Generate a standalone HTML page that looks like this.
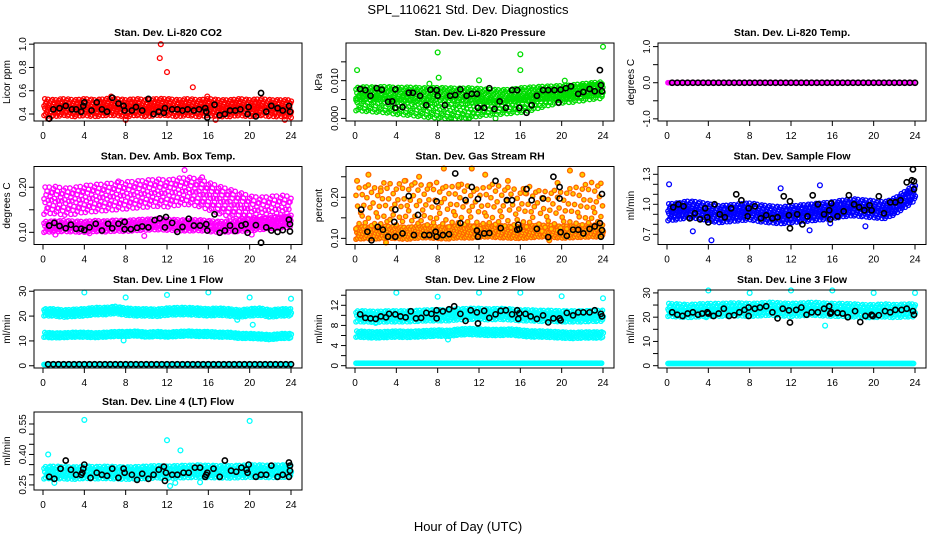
<!DOCTYPE html>
<html><head><meta charset="utf-8"><style>
html,body{margin:0;padding:0;background:#fff;}
svg{display:block;font-family:"Liberation Sans",Arial,sans-serif;}
</style></head><body>
<svg id="chart" width="936" height="540" viewBox="0 0 936 540">
<text x="468" y="14" font-size="13" text-anchor="middle">SPL_110621  Std. Dev. Diagnostics</text>
<text x="468" y="531" font-size="13" text-anchor="middle">Hour of Day (UTC)</text>
</svg>
<script>
// ---- data ----
const xTicks = [0,4,8,12,16,20,24];
const panelTitles = ["Stan. Dev. Li-820 CO2","Stan. Dev. Li-820 Pressure","Stan. Dev. Li-820 Temp.","Stan. Dev. Amb. Box Temp.","Stan. Dev. Gas Stream RH","Stan. Dev. Sample Flow","Stan. Dev. Line 1 Flow","Stan. Dev. Line 2 Flow","Stan. Dev. Line 3 Flow","Stan. Dev. Line 4 (LT) Flow"];
const yUnits = ["Licor ppm","kPa","degrees C","degrees C","percent","ml/min","ml/min","ml/min","ml/min","ml/min"];
const yRanges = [[0.34,1.01],[-0.0007,0.0200],[-1.06,1.1],[0.073,0.246],[0.085,0.275],[0.598,1.378],[-0.9,30.5],[-0.46,15.04],[-0.95,31.2],[0.225,0.609]];
const yTicks = [[0.4,0.6,0.8,1.0],[0,0.005,0.010,0.015],[-1,-0.5,0,0.5,1],[0.10,0.15,0.20],[0.10,0.15,0.20,0.25],[0.7,0.8,0.9,1.0,1.1,1.2,1.3],[0,10,20,30],[0,2,4,6,8,10,12,14],[0,5,10,15,20,25,30],[0.25,0.30,0.35,0.40,0.45,0.50,0.55]];
const yTickLabels = [["0.4","0.6","0.8","1.0"],["0.000","","0.010",""],["-1.0","","0.0","","1.0"],["0.10","","0.20"],["0.10","","0.20",""],["0.7","","","1.0","","","1.3"],["0","10","20","30"],["0","","4","","8","","12",""],["0","","10","","20","","30"],["0.25","","","0.40","","","0.55"]];
const seriesColors = ["#ff0000","#00dd00","#ff00ff","#ff00ff","#ffcc00","#0000ff","#00ffff","#00ffff","#00ffff","#00ffff"];

// band centres at hours 0..24 (one value per hour)
const co2Band = [0.46,0.45,0.46,0.45,0.46,0.45,0.46,0.46,0.45,0.46,0.45,0.46,0.46,0.45,0.46,0.45,0.46,0.45,0.45,0.46,0.45,0.46,0.45,0.45,0.45];
const presBandHi = [0.0065,0.0067,0.0066,0.0068,0.0065,0.0066,0.0065,0.0064,0.0065,0.0064,0.0063,0.0064,0.0062,0.0060,0.0059,0.0060,0.0064,0.0066,0.0068,0.0069,0.0070,0.0072,0.0075,0.0078,0.0080];
const presBandLo = [0.0040,0.0038,0.0036,0.0034,0.0030,0.0028,0.0025,0.0022,0.0020,0.0018,0.0018,0.0020,0.0025,0.0028,0.0030,0.0032,0.0035,0.0040,0.0048,0.0055,0.0060,0.0062,0.0066,0.0070,0.0072];
const tempBand = [0,0,0,0,0,0,0,0,0,0,0,0,0,0,0,0,0,0,0,0,0,0,0,0,0];
const ambBandHi = [0.170,0.172,0.168,0.170,0.174,0.176,0.178,0.180,0.182,0.184,0.186,0.188,0.186,0.190,0.192,0.188,0.180,0.172,0.165,0.158,0.150,0.148,0.150,0.152,0.150];
const ambBandLo = [0.112,0.113,0.114,0.113,0.112,0.114,0.113,0.115,0.114,0.116,0.117,0.118,0.117,0.116,0.115,0.116,0.114,0.112,0.113,0.114,0.116,0.118,0.120,0.122,0.124];
const rhBandLo = [0.112,0.114,0.113,0.115,0.114,0.112,0.115,0.116,0.114,0.113,0.116,0.115,0.117,0.118,0.116,0.115,0.114,0.116,0.118,0.117,0.115,0.116,0.117,0.118,0.118];
const rhBandHi = [0.170,0.185,0.175,0.190,0.180,0.195,0.185,0.180,0.190,0.175,0.185,0.180,0.170,0.185,0.180,0.175,0.170,0.180,0.165,0.170,0.165,0.175,0.180,0.190,0.185];
const flowBand = [0.92,0.93,0.95,0.94,0.92,0.90,0.91,0.92,0.93,0.91,0.90,0.89,0.90,0.91,0.92,0.93,0.94,0.96,0.97,0.96,0.95,0.94,0.98,1.05,1.12];
const l1BandHi = [21.5,21.5,21.0,21.3,21.5,22.0,22.0,22.5,21.8,21.5,21.5,21.3,21.8,22.0,22.0,21.8,21.5,21.8,21.5,21.0,21.5,21.8,21.0,21.5,21.5];
const l1BandMid = [12.5,12.2,12.3,12.5,12.5,12.3,12.5,12.8,12.8,13.0,12.5,12.8,12.5,12.8,13.0,12.8,12.8,12.5,12.5,12.0,12.0,11.8,11.5,12.0,12.0];
const l1BandLo = [0.5,0.5,0.5,0.5,0.5,0.5,0.5,0.5,0.5,0.5,0.5,0.5,0.5,0.5,0.5,0.5,0.5,0.5,0.5,0.5,0.5,0.5,0.5,0.5,0.5];
const l2BandHi = [9.8,9.8,9.7,9.8,9.8,9.8,9.9,10.0,10.0,10.0,10.2,10.3,10.3,10.2,10.3,10.2,10.0,10.0,9.9,9.9,9.8,9.8,9.8,9.9,9.9];
const l2BandMid = [6.3,6.2,6.1,6.2,6.3,6.2,6.3,6.4,6.5,6.4,6.7,6.8,6.7,6.6,6.6,6.7,6.5,6.3,6.3,6.2,6.1,6.0,6.1,6.1,6.1];
const l2BandLo = [0.5,0.5,0.5,0.5,0.5,0.5,0.5,0.5,0.5,0.5,0.5,0.5,0.5,0.5,0.5,0.5,0.5,0.5,0.5,0.5,0.5,0.5,0.5,0.5,0.5];
const l3BandHi = [23,22.8,22.5,22.8,23,23,23.2,23.2,23,23.2,23.5,23.2,23,23.2,23.5,23.2,23,23,22.8,22.5,22.5,22.8,22.5,22.8,22.8];
const l3BandLo = [0.9,0.9,0.9,0.9,0.9,0.9,0.9,0.9,0.9,0.9,0.9,0.9,0.9,0.9,0.9,0.9,0.9,0.9,0.9,0.9,0.9,0.9,0.9,0.9,0.9];
const l4Band = [0.310,0.312,0.310,0.308,0.312,0.310,0.312,0.310,0.308,0.310,0.312,0.315,0.312,0.315,0.316,0.318,0.316,0.315,0.314,0.316,0.318,0.318,0.316,0.318,0.318];

// individual outliers (hour, value)
const co2Outliers = [[11.4,1.0],[11.3,0.88],[12.0,0.76],[14.5,0.63],[0.5,0.36],[8.0,0.35],[16.7,0.35],[23.4,0.35],[24,0.37],[6.6,0.55],[15.9,0.55]];
const presOutliers = [[0.2,0.0128],[8.0,0.0175],[8.1,0.0108],[16.0,0.0170],[16.0,0.0128],[24.0,0.0190],[12.0,0.0101],[9.3,0.0],[11.0,0.0],[13.6,0.0],[20.3,0.0100],[7.2,0.0092]];
const ambOutliers = [[13.7,0.238],[15.4,0.222],[7.3,0.213],[1.2,0.095],[20.2,0.095],[9.8,0.092],[4.5,0.098]];
const rhOutliers = [[8.6,0.27],[11.3,0.27],[20.8,0.265],[1.3,0.255],[12.6,0.255],[22.0,0.255],[0.2,0.24],[6.2,0.25],[3.0,0.09],[18.8,0.095],[4.8,0.24],[10,0.23],[14.8,0.24],[19.6,0.235],[16.5,0.21],[2.5,0.215],[7.2,0.23]];
const flowOutliers = [[0.2,1.2],[2.5,0.73],[4.3,0.64],[13.8,0.74],[11.0,1.16],[14.8,1.19],[15.8,0.81],[19.2,0.78]];
const l1Outliers = [[4,29.5],[12,28.5],[16,29.5],[8,27.5],[20,27.5],[24,27],[20.3,16.5],[18.8,18.5],[7.8,10.2]];
const l2Outliers = [[4,14.5],[8,13.7],[12,14.5],[16,14.5],[20,13.8],[24,13.4],[2,8.5],[9,5.2]];
const l3Outliers = [[4,31],[8,30],[12,31],[16,31],[20,30],[24,30],[15.3,16.5],[3.8,20]];
const l4Outliers = [[4,0.57],[20,0.565],[12,0.47],[13.3,0.42],[0.5,0.40],[1.1,0.26],[12.3,0.245],[15.2,0.263],[12.8,0.26]];

// black points (hour, value)
const co2Black = [[0.6,0.36],[1.0,0.44],[1.6,0.45],[2.2,0.47],[2.8,0.44],[3.2,0.44],[3.7,0.42],[3.9,0.47],[4.0,0.50],[4.7,0.43],[5.2,0.50],[5.7,0.44],[6.2,0.42],[6.7,0.54],[7.3,0.49],[7.8,0.47],[7.9,0.43],[8.6,0.43],[9.0,0.46],[9.6,0.43],[10.2,0.53],[10.7,0.40],[11.2,0.42],[11.7,0.41],[11.8,0.45],[12.5,0.44],[13.0,0.44],[13.5,0.43],[14.0,0.44],[14.6,0.43],[15.1,0.44],[15.7,0.45],[15.8,0.42],[15.9,0.37],[16.6,0.48],[17.1,0.39],[17.6,0.40],[18.1,0.43],[18.6,0.43],[19.1,0.44],[19.8,0.40],[19.9,0.46],[20.6,0.38],[21.1,0.58],[21.6,0.42],[22.1,0.47],[22.7,0.45],[23.2,0.43],[23.8,0.47],[23.9,0.42]];
const presBlack = [[0.5,0.0078],[1.0,0.0075],[1.5,0.0060],[2.1,0.0080],[2.6,0.0076],[3.2,0.0044],[3.6,0.0045],[3.9,0.0077],[3.9,0.0028],[4.6,0.0030],[5.2,0.0068],[5.6,0.0068],[6.3,0.0060],[6.9,0.0035],[7.3,0.0076],[7.9,0.0075],[8.0,0.0060],[8.7,0.0035],[9.2,0.0060],[9.7,0.0062],[10.2,0.0077],[10.8,0.0060],[11.3,0.0065],[11.8,0.0065],[11.9,0.0028],[12.5,0.0028],[13.0,0.0080],[13.5,0.0025],[14.0,0.0045],[14.6,0.0028],[15.2,0.0075],[15.7,0.0075],[15.9,0.0028],[16.6,0.0015],[17.1,0.0035],[17.6,0.0060],[18.2,0.0075],[18.7,0.0075],[19.3,0.0075],[19.7,0.0042],[19.9,0.0076],[20.4,0.0080],[20.9,0.0085],[21.6,0.0065],[22.1,0.0070],[22.7,0.0078],[23.2,0.0072],[23.7,0.0128],[23.8,0.0088],[23.9,0.0072]];
const tempBlack = [[0.5,0],[1,0],[1.5,0],[2,0],[2.5,0],[3,0],[3.5,0],[4,0],[4.5,0],[5,0],[5.5,0],[6,0],[6.5,0],[7,0],[7.5,0],[8,0],[8.5,0],[9,0],[9.5,0],[10,0],[10.5,0],[11,0],[11.5,0],[12,0],[12.5,0],[13,0],[13.5,0],[14,0],[14.5,0],[15,0],[15.5,0],[16,0],[16.5,0],[17,0],[17.5,0],[18,0],[18.5,0],[19,0],[19.5,0],[20,0],[20.5,0],[21,0],[21.5,0],[22,0],[22.5,0],[23,0],[23.5,0],[24,0]];
const ambBlack = [[0.6,0.115],[1.1,0.121],[1.6,0.114],[2.2,0.109],[2.7,0.117],[3.2,0.108],[3.7,0.108],[4.0,0.105],[4.5,0.111],[5.1,0.119],[5.7,0.104],[6.3,0.119],[6.7,0.109],[7.3,0.119],[7.9,0.123],[7.9,0.107],[8.5,0.107],[9.1,0.110],[9.6,0.113],[10.2,0.111],[10.8,0.127],[11.3,0.131],[11.8,0.111],[11.9,0.134],[12.5,0.121],[13.0,0.101],[13.5,0.112],[14.1,0.130],[14.6,0.115],[15.2,0.115],[15.8,0.118],[15.9,0.104],[16.6,0.140],[17.1,0.099],[17.6,0.104],[18.1,0.115],[18.6,0.103],[19.2,0.115],[19.6,0.118],[19.8,0.099],[20.6,0.116],[21.1,0.077],[21.6,0.111],[22.1,0.104],[22.7,0.101],[23.2,0.105],[23.8,0.128],[23.9,0.118],[23.9,0.102]];
const rhBlack = [[0.6,0.17],[1.2,0.116],[1.6,0.095],[2.2,0.128],[2.7,0.121],[3.2,0.104],[3.8,0.14],[3.9,0.170],[3.9,0.104],[4.6,0.112],[5.2,0.203],[5.7,0.108],[6.1,0.157],[6.7,0.108],[7.2,0.108],[7.8,0.116],[7.9,0.19],[7.9,0.104],[8.5,0.108],[9.1,0.110],[9.7,0.258],[10.2,0.137],[10.7,0.193],[11.3,0.225],[11.8,0.119],[11.9,0.196],[11.9,0.104],[12.5,0.112],[13.0,0.113],[13.6,0.24],[14.1,0.125],[14.7,0.193],[15.2,0.193],[15.7,0.121],[15.8,0.133],[15.9,0.123],[16.6,0.22],[17.1,0.193],[17.6,0.123],[18.2,0.197],[18.7,0.103],[19.2,0.25],[19.8,0.225],[19.8,0.197],[19.9,0.115],[20.5,0.106],[21.1,0.121],[21.6,0.121],[22.1,0.112],[22.7,0.123],[23.2,0.129],[23.7,0.137],[23.8,0.104],[23.9,0.208],[23.9,0.12]];
const flowBlack = [[0.6,0.97],[1.1,1.0],[1.6,0.98],[2.2,0.86],[2.7,0.91],[3.2,0.85],[3.7,0.96],[3.9,0.87],[4.0,0.82],[4.6,1.0],[5.1,0.90],[5.6,0.87],[6.2,0.96],[6.7,1.10],[7.2,1.04],[7.8,0.88],[7.9,0.96],[8.5,0.98],[9.1,0.86],[9.6,0.89],[10.2,0.86],[10.7,0.87],[11.3,1.08],[11.8,0.89],[11.9,0.76],[11.9,1.03],[12.6,0.90],[13.1,0.80],[13.6,0.88],[14.1,1.09],[14.6,1.0],[15.2,0.90],[15.7,0.94],[15.8,0.85],[15.9,1.01],[16.5,0.88],[17.1,0.93],[17.6,1.09],[18.1,1.00],[18.6,0.97],[19.1,0.94],[19.6,0.99],[19.8,0.94],[20.5,1.08],[21.0,0.91],[21.6,1.02],[22.1,1.02],[22.6,1.04],[23.2,1.22],[23.7,1.24],[23.8,1.35],[23.9,1.15],[23.9,1.23]];
const l1Black = [[0.5,0.6],[1,0.6],[1.5,0.6],[2,0.6],[2.5,0.6],[3,0.6],[3.5,0.6],[4,0.6],[4.5,0.6],[5,0.6],[5.5,0.6],[6,0.6],[6.5,0.6],[7,0.6],[7.5,0.6],[8,0.6],[8.5,0.6],[9,0.6],[9.5,0.6],[10,0.6],[10.5,0.6],[11,0.6],[11.5,0.6],[12,0.6],[12.5,0.6],[13,0.6],[13.5,0.6],[14,0.6],[14.5,0.6],[15,0.6],[15.5,0.6],[16,0.6],[16.5,0.6],[17,0.6],[17.5,0.6],[18,0.6],[18.5,0.6],[19,0.6],[19.5,0.6],[20,0.6],[20.5,0.6],[21,0.6],[21.5,0.6],[22,0.6],[22.5,0.6],[23,0.6],[23.5,0.6],[24,0.6]];
const l2Black = [[0.5,10.2],[1.0,9.5],[1.5,9.4],[2.0,9.3],[2.5,9.8],[3.0,9.6],[3.3,10.3],[3.9,10.2],[4.4,9.8],[4.9,9.6],[5.4,10.8],[5.9,9.4],[6.4,9.5],[6.9,10.5],[7.4,10.3],[7.9,11.0],[7.9,9.4],[8.5,10.8],[9.1,11.2],[9.6,11.8],[10.2,10.3],[10.7,8.9],[11.2,11.0],[11.8,10.6],[11.9,8.4],[12.5,10.9],[13.0,9.5],[13.6,10.2],[14.1,10.9],[14.6,11.0],[15.2,10.2],[15.7,11.0],[15.8,9.3],[15.9,10.4],[16.5,10.3],[17.0,9.8],[17.6,9.3],[18.2,10.0],[18.7,8.6],[19.2,9.4],[19.8,9.4],[19.9,9.0],[20.5,10.5],[21.1,10.0],[21.6,10.6],[22.1,10.6],[22.7,10.6],[23.2,11.0],[23.8,10.3],[23.9,9.8]];
const l3Black = [[0.5,22],[1.0,21],[1.5,20.5],[2.0,21.5],[2.5,22],[3.0,21],[3.4,21.5],[3.9,22],[4.0,21.5],[4.5,20.5],[5.0,21.5],[5.5,23.5],[6.0,20.5],[6.5,20.8],[7.0,22],[7.5,23],[7.9,24],[7.9,20.5],[8.5,23.5],[9.0,24],[9.6,24.5],[10.2,22],[10.7,19.5],[11.2,23.5],[11.8,22.8],[11.9,17.8],[12.5,23],[13.0,24],[13.5,21],[14.0,22],[14.6,22],[15.2,23.5],[15.7,24.5],[15.8,21.5],[15.9,22],[16.5,21.8],[17.0,21.5],[17.5,20],[18.2,22.5],[18.7,18],[19.2,20.5],[19.8,21],[19.9,20.5],[20.5,20.8],[21.1,22.5],[21.6,22],[22.1,23],[22.7,23],[23.2,23.5],[23.8,22.5],[23.9,21]];
const l4Black = [[0.6,0.29],[1.1,0.28],[1.7,0.33],[2.2,0.37],[2.7,0.325],[3.2,0.30],[3.7,0.30],[3.8,0.31],[3.9,0.33],[4.0,0.35],[4.6,0.285],[5.2,0.31],[5.7,0.30],[6.2,0.295],[6.7,0.33],[7.3,0.285],[7.8,0.33],[7.9,0.31],[8.6,0.30],[9.1,0.275],[9.6,0.305],[10.2,0.28],[10.7,0.30],[11.2,0.325],[11.7,0.34],[11.8,0.27],[11.9,0.31],[12.5,0.30],[13.0,0.30],[13.6,0.31],[14.1,0.31],[14.7,0.335],[15.2,0.335],[15.7,0.29],[15.8,0.30],[15.9,0.31],[16.5,0.33],[17.1,0.29],[17.6,0.37],[18.2,0.32],[18.7,0.315],[19.2,0.335],[19.7,0.325],[19.8,0.31],[19.9,0.35],[20.6,0.29],[21.1,0.30],[21.6,0.30],[22.1,0.345],[22.7,0.29],[23.2,0.30],[23.8,0.29],[23.8,0.36],[23.9,0.32],[23.9,0.345]];

// bands per panel: [centre array, half spread, rows, hour step]
const panelBands = [
 [[co2Band,0.06,4,0.15]],
 [[presBandHi,0.0014,3,0.17],[presBandLo,0.0016,3,0.2]],
 [[tempBand,0.0,1,0.12]],
 [[ambBandHi,0.025,4,0.2],[ambBandLo,0.010,3,0.17]],
 [[rhBandLo,0.012,3,0.15],[rhBandHi,0.04,3,0.3]],
 [[flowBand,0.07,4,0.15]],
 [[l1BandHi,1.2,3,0.15],[l1BandMid,0.8,2,0.15],[l1BandLo,0.1,1,0.12]],
 [[l2BandHi,0.9,3,0.15],[l2BandMid,0.5,2,0.15],[l2BandLo,0.1,1,0.12]],
 [[l3BandHi,2.2,4,0.15],[l3BandLo,0.1,1,0.12]],
 [[l4Band,0.025,3,0.15]]
];
const panelOutliers = [co2Outliers,presOutliers,[],ambOutliers,rhOutliers,flowOutliers,l1Outliers,l2Outliers,l3Outliers,l4Outliers];
const panelBlack = [co2Black,presBlack,tempBlack,ambBlack,rhBlack,flowBlack,l1Black,l2Black,l3Black,l4Black];

// ---- drawing ----
const svg = document.getElementById('chart');
const NS = 'http://www.w3.org/2000/svg';
const rowTops = [43,166.5,290,412];
function mk(tag, attrs, parent){const e=document.createElementNS(NS,tag);for(const k in attrs)e.setAttribute(k,attrs[k]);(parent||svg).appendChild(e);return e;}

panelTitles.forEach((title,p)=>{
  const col=p%3,row=Math.floor(p/3);
  const L=col*312+34, R=L+268, T=rowTops[row], B=T+78;
  const g=mk('g',{});
  
  
  const xs=h=>L+9+h*(248/24);
  const [y0,y1]=yRanges[p];
  const ys=v=>B-(v-y0)/(y1-y0)*78;
  const t=mk('text',{x:(L+R)/2,y:T-7,'font-size':10.5,'font-weight':'bold','text-anchor':'middle'},g);
  t.textContent=title;
  
  
  const yl=mk('text',{x:0,y:0,'font-size':10,'text-anchor':'middle',transform:`translate(${L-24},${(T+B)/2}) rotate(-90)`},g);
  yl.textContent=yUnits[p];
  
  
  const color=seriesColors[p];
  const pts=mk('g',{fill:'none','stroke-width':1.3},g);
  
  
  const fillC = p===4 ? '#ffcc00' : 'none';
  const strokeC = p===4 ? '#ff6600' : color;
  panelBands[p].forEach(([arr,spread,rows,step])=>{
    let j=0;
    for(let h=0.1;h<=23.95;h+=step,j++){
      const i=Math.floor(h),f=h-i;
      const c=arr[i]*(1-f)+arr[Math.min(i+1,24)]*f;
      for(let k=0;k<rows;k++){
        const frac = rows===1?0:(k/(rows-1))*2-1;
        const wob = (((j*7+k*3)%5)/4-0.5)*0.7;
        const v=c+spread*Math.max(-1.2,Math.min(1.2,frac+wob*(rows>1?1:0)));
        const ci=mk('circle',{cx:xs(h+(k%2)*step*0.5).toFixed(1),cy:ys(v).toFixed(1),r:2.2,stroke:strokeC,fill:fillC},pts);
        
        
      }
    }
  });
  panelOutliers[p].forEach(([h,v])=>{
    const ci=mk('circle',{cx:xs(h),cy:ys(v),r:2.4,stroke:strokeC,fill:fillC},pts);
    
    
  });
  panelBlack[p].forEach(([h,v])=>{
    const ci=mk('circle',{cx:xs(h),cy:ys(v),r:2.6,stroke:'#000','stroke-width':1.6,fill:'none'},pts);
    
    
  });
  const box=mk('rect',{x:L,y:T,width:R-L,height:78,fill:'none',stroke:'#000','stroke-width':1},g);
  
  
  const ax=mk('g',{stroke:'#000','stroke-width':1},g);
  
  
  xTicks.forEach(h=>{
    mk('line',{x1:xs(h),x2:xs(h),y1:B,y2:B+5},ax);
    const tl=mk('text',{x:xs(h),y:B+18,'font-size':10,'text-anchor':'middle',stroke:'none',fill:'#000'},ax);
    tl.textContent=h;
    
    
  });
  const ay=mk('g',{stroke:'#000','stroke-width':1},g);
  
  
  yTicks[p].forEach((v,i)=>{
    const y=ys(v);
    mk('line',{x1:L-5,x2:L,y1:y,y2:y},ay);
    const lab=yTickLabels[p][i];
    if(lab){
      const tl=mk('text',{x:0,y:0,'font-size':10,'text-anchor':'middle',stroke:'none',fill:'#000',transform:`translate(${L-8},${y}) rotate(-90)`},ay);
      tl.textContent=lab;
      
      
    }
  });
});
</script>
</body></html>
